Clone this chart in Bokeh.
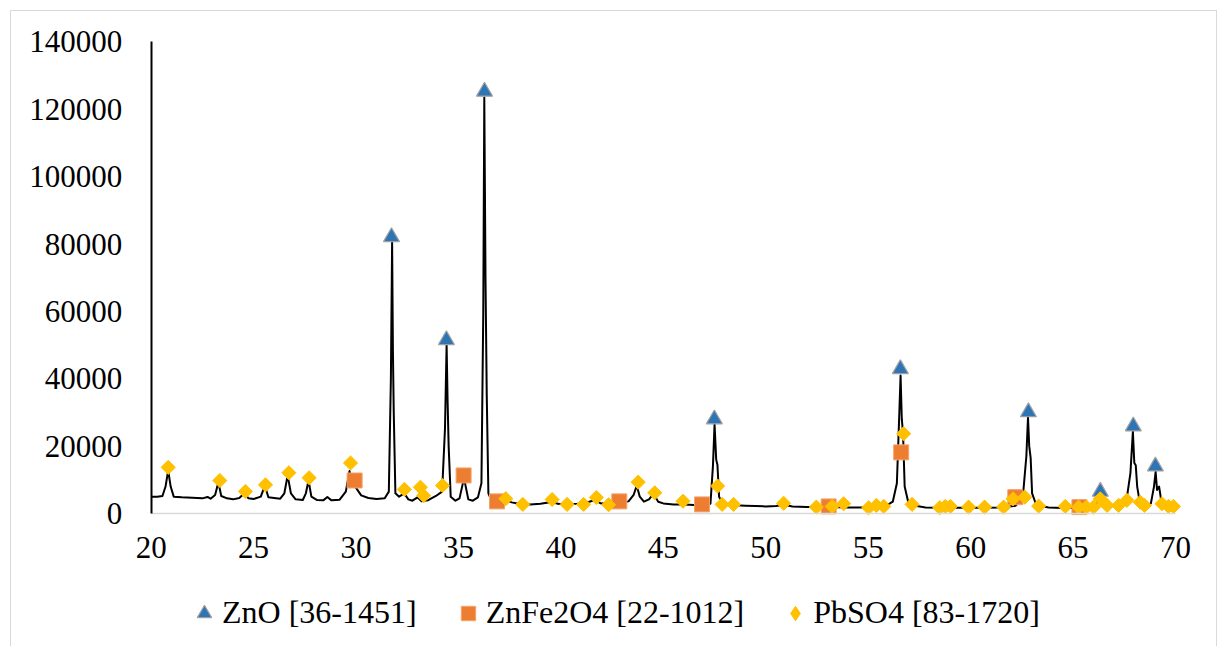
import numpy as np
from bokeh.plotting import figure
from bokeh.models import (Range1d, FixedTicker, NumeralTickFormatter, Legend, LegendItem)
from bokeh.embed import file_html
from bokeh.resources import INLINE

# ---- XRD trace (2-theta, intensity) ----
theta = [20.00, 20.30, 20.55, 20.70, 20.83, 20.95, 21.10, 21.50, 22.00, 22.50, 22.75, 22.90,
         23.12, 23.28, 23.42, 23.70, 24.00, 24.30, 24.55, 24.75, 25.00, 25.35, 25.55, 25.72,
         26.00, 26.30, 26.50, 26.66, 26.82, 27.05, 27.40, 27.55, 27.68, 27.82, 28.10, 28.40,
         28.60, 28.80, 29.20, 29.50, 29.68, 29.80, 30.00, 30.25, 30.60, 31.00, 31.40, 31.60,
         31.70, 31.76, 31.80, 31.84, 31.92, 32.10, 32.35, 32.55, 32.75, 33.00, 33.20, 33.50,
         33.90, 34.20, 34.34, 34.42, 34.47, 34.52, 34.62, 34.85, 35.05, 35.27, 35.48, 35.70,
         35.95, 36.12, 36.21, 36.26, 36.32, 36.38, 36.46, 36.65, 37.00, 37.30, 37.60, 38.00,
         38.50, 39.00, 39.55, 39.90, 40.30, 40.80, 41.20, 41.65, 41.95, 42.40, 42.90, 43.30,
         43.55, 43.70, 43.85, 44.05, 44.30, 44.52, 44.75, 45.00, 45.50, 46.00, 46.50, 47.00,
         47.30, 47.42, 47.50, 47.58, 47.64, 47.72, 47.90, 48.40, 49.00, 49.50, 50.00, 50.50,
         50.90, 51.30, 52.00, 53.00, 54.00, 55.00, 55.80, 56.20, 56.40, 56.52, 56.58, 56.64,
         56.70, 56.78, 56.95, 57.30, 57.80, 58.50, 59.50, 60.50, 61.50, 62.20, 62.55, 62.72,
         62.80, 62.86, 62.93, 63.00, 63.20, 63.80, 64.50, 65.20, 65.80, 66.15, 66.33, 66.50,
         66.80, 67.30, 67.60, 67.80, 67.92, 67.99, 68.06, 68.13, 68.25, 68.55, 68.80, 68.95,
         69.03, 69.10, 69.20, 69.30, 69.50, 69.90]
intensity = [5000, 5000, 5200, 8000, 12800, 8000, 5000, 4800, 4700, 4500, 4900, 4400,
             5500, 9300, 5200, 4500, 4200, 4600, 6000, 4500, 4300, 5000, 8300, 4800,
             4600, 4400, 6000, 11300, 6000, 4200, 4000, 6000, 9800, 5000, 4000, 3900,
             4900, 3900, 4100, 6500, 12600, 9000, 7600, 5400, 4600, 4300, 4500, 6500,
             40000, 80500, 48000, 30000, 6000, 5000, 6000, 4200, 3800, 4800, 3600, 3900,
             5200, 6500, 25000, 50000, 33000, 20000, 5000, 3800, 4500, 10500, 4200, 3800,
             4800, 9000, 60000, 123500, 69000, 35000, 6000, 3300, 3800, 3900, 3300, 2800,
             2700, 2900, 3400, 2800, 2800, 2900, 3100, 4000, 3000, 3100, 3200, 3600,
             5500, 8300, 5000, 3500, 4200, 5900, 3500, 3000, 2700, 2700, 2500, 2500,
             2900, 14000, 26500, 16000, 14500, 5000, 3000, 2500, 2300, 2200, 2100, 2200,
             2600, 2100, 1900, 1900, 1800, 1800, 2000, 3500, 9000, 30000, 41000, 28000,
             24000, 8000, 3500, 2300, 1800, 1700, 1700, 1700, 1800, 2300, 5000, 17000,
             28500, 20000, 16500, 6000, 2600, 1800, 1600, 1600, 1800, 3000, 5000, 3000,
             2200, 2400, 3600, 12000, 24300, 15000, 14300, 8000, 3500, 2300, 3000, 8000,
             12400, 7000, 8000, 4000, 2300, 2000]

# ---- Phase markers ----
zno_x = [31.73, 34.41, 36.27, 47.49, 56.57, 62.82, 66.33, 67.94, 69.02]
zno_y = [82100, 51500, 125300, 28000, 42900, 30100, 6500, 25900, 14000]

znfe_x = [29.93, 35.25, 36.88, 42.85, 46.89, 53.07, 56.61, 62.18, 65.31]
znfe_y = [9800, 11300, 3600, 3600, 2700, 2100, 18150, 4850, 1900]

pbso4_x = [20.83, 23.35, 24.60, 25.58, 26.72, 27.71, 29.73, 32.36, 33.14, 33.30, 34.22,
           37.31, 38.14, 39.57, 40.30, 41.11, 41.73, 42.33, 43.77, 44.58, 45.96, 47.65,
           47.87, 48.43, 50.87, 52.47, 53.24, 53.80, 55.02, 55.40, 55.76, 56.73, 57.14,
           58.49, 58.76, 59.01, 59.90, 60.68, 61.61, 62.07, 62.64, 63.32, 64.62, 65.27,
           65.65, 66.00, 66.33, 66.66, 67.22, 67.63, 68.28, 68.49, 69.34, 69.66, 69.90]
pbso4_y = [13700, 9800, 6550, 8500, 12100, 10600, 15000, 7150, 7800, 5300, 8300,
           4400, 2700, 4150, 2700, 2700, 4750, 2600, 9300, 6150, 3650, 8150,
           2700, 2700, 3050, 1900, 2100, 2900, 1700, 2400, 2100, 23700, 2700,
           1700, 2100, 2100, 1900, 1900, 1900, 4350, 4850, 2200, 2100, 1900,
           1900, 1900, 4350, 2400, 2400, 3900, 3350, 2400, 2900, 2100, 2100]

x_ticks = [20, 25, 30, 35, 40, 45, 50, 55, 60, 65, 70]
y_ticks = [0, 20000, 40000, 60000, 80000, 100000, 120000, 140000]
labels = ["ZnO [36-1451]", "ZnFe2O4 [22-1012]", "PbSO4 [83-1720]"]

FONT = "Liberation Serif"
GRID = "#D9D9D9"

# The frame covers the whole page (axes are pinned at x=20 / y=0 and bounded)
# so that tick labels and the legend below the axis are not clipped.
# 20 -> x=151 px, 70 -> x=1175 px ; 0 -> y=513 px, 140000 -> y=41.5 px
p = figure(width=1220, height=646, output_backend="svg", toolbar_location=None,
           x_range=Range1d(12.644, 72.197), y_range=Range1d(-39491, 152322),
           min_border_left=0, min_border_right=0, min_border_top=0,
           min_border_bottom=0)
p.border_fill_color = None
p.background_fill_color = None
p.outline_line_color = None
p.xgrid.visible = False
p.ygrid.visible = False
p.styles = {
    "background-color": "white",
    "background-image": ("linear-gradient(#D9D9D9,#D9D9D9),"
                         "linear-gradient(#D9D9D9,#D9D9D9),"
                         "linear-gradient(#D9D9D9,#D9D9D9)"),
    "background-size": "1px 700px, 1207px 1px, 1px 700px",
    "background-position": "10px 10px, 10px 10px, 1216px 10px",
    "background-repeat": "no-repeat",
}

# axes
p.xaxis.ticker = FixedTicker(ticks=x_ticks)
p.yaxis.ticker = FixedTicker(ticks=y_ticks)
p.yaxis.formatter = NumeralTickFormatter(format="0")
for ax in (p.xaxis[0], p.yaxis[0]):
    ax.major_tick_in = 0
    ax.major_tick_out = 0
    ax.minor_tick_in = 0
    ax.minor_tick_out = 0
    ax.major_label_text_font = FONT
    ax.major_label_text_font_size = "31px"
    ax.major_label_text_color = "black"
p.xaxis.fixed_location = 0
p.xaxis.bounds = (20, 70)
p.xaxis.axis_line_color = GRID
p.xaxis.axis_line_width = 1.5
p.xaxis.major_label_standoff = 24
p.yaxis.fixed_location = 20
p.yaxis.bounds = (0, 140000)
p.yaxis.axis_line_color = "black"
p.yaxis.axis_line_width = 2
p.yaxis.major_label_standoff = 29

# trace
p.line(theta, intensity, line_color="black", line_width=2, line_join="round")

r_zno = p.scatter(zno_x, zno_y, marker="triangle", size=16, fill_color="#2E75B6",
                  line_color="#A0A0A0", line_width=1.2)
r_znfe = p.scatter(znfe_x, znfe_y, marker="square", size=15, fill_color="#ED7D31",
                   line_color="#F4A36C", line_width=1)
# diamond-shaped renderer used for the legend icon (hidden under the plot markers)
r_pb_leg = p.scatter(pbso4_x, pbso4_y, marker="diamond", size=8, fill_color="#FFC000",
                     line_color="#FFC000", line_width=1)
p.scatter(pbso4_x, pbso4_y, marker="square", angle=np.pi / 4, size=10,
          fill_color="#FFC000", line_color="#FFC000", line_width=1)

legend = Legend(items=[LegendItem(label=labels[0], renderers=[r_zno]),
                       LegendItem(label=labels[1], renderers=[r_znfe]),
                       LegendItem(label=labels[2], renderers=[r_pb_leg])],
                orientation="horizontal", location=(186, 15),
                label_text_font=FONT, label_text_font_size="32px",
                label_text_color="black",
                glyph_width=36, glyph_height=36, label_standoff=0, spacing=33,
                padding=0, margin=0, border_line_color=None,
                background_fill_alpha=0)
p.add_layout(legend)

open("out.html", "w").write(file_html(p, INLINE))
